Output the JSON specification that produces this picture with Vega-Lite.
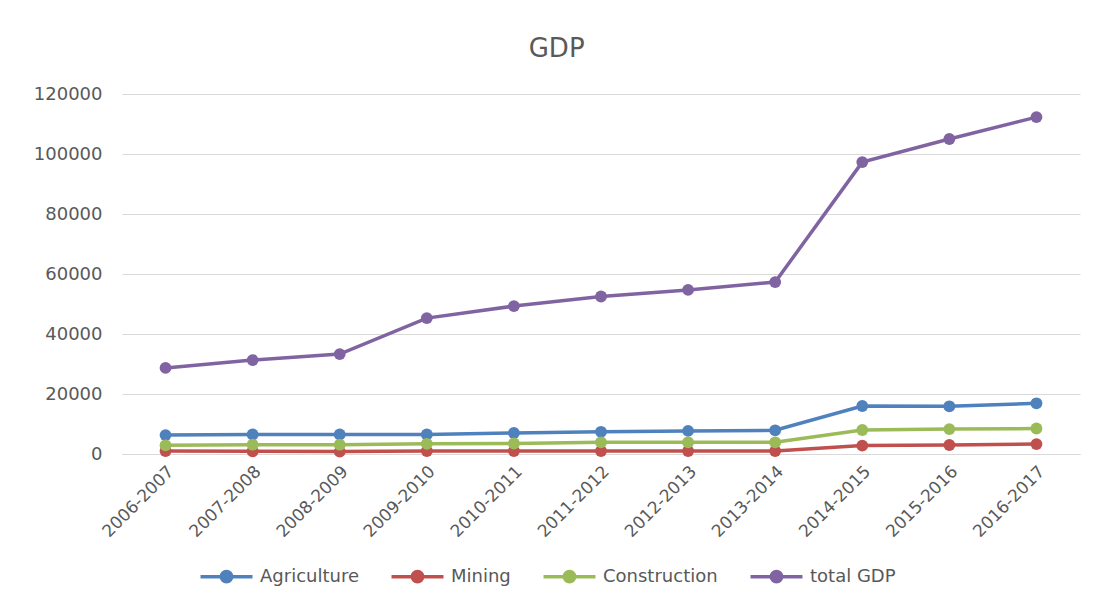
{
  "$schema": "https://vega.github.io/schema/vega-lite/v6.json",
  "width": 958,
  "height": 360,
  "autosize": {"type": "none"},
  "padding": {"left": 122, "top": 94, "right": 14, "bottom": 148},
  "background": "white",
  "config": {
    "font": "DejaVu Sans",
    "view": {"stroke": null}
  },
  "title": {
    "text": "GDP",
    "fontSize": 26,
    "fontWeight": "normal",
    "color": "#595959",
    "frame": "bounds",
    "anchor": "middle",
    "offset": 23
  },
  "data": {
    "values": [
      {"period": "2006-2007", "series": "Agriculture", "value": 6300},
      {"period": "2007-2008", "series": "Agriculture", "value": 6500},
      {"period": "2008-2009", "series": "Agriculture", "value": 6500},
      {"period": "2009-2010", "series": "Agriculture", "value": 6500},
      {"period": "2010-2011", "series": "Agriculture", "value": 7000},
      {"period": "2011-2012", "series": "Agriculture", "value": 7400},
      {"period": "2012-2013", "series": "Agriculture", "value": 7700},
      {"period": "2013-2014", "series": "Agriculture", "value": 7900},
      {"period": "2014-2015", "series": "Agriculture", "value": 16000},
      {"period": "2015-2016", "series": "Agriculture", "value": 15900},
      {"period": "2016-2017", "series": "Agriculture", "value": 16900},
      {"period": "2006-2007", "series": "Mining", "value": 1000},
      {"period": "2007-2008", "series": "Mining", "value": 900},
      {"period": "2008-2009", "series": "Mining", "value": 800},
      {"period": "2009-2010", "series": "Mining", "value": 1000},
      {"period": "2010-2011", "series": "Mining", "value": 1000},
      {"period": "2011-2012", "series": "Mining", "value": 1000},
      {"period": "2012-2013", "series": "Mining", "value": 1000},
      {"period": "2013-2014", "series": "Mining", "value": 1000},
      {"period": "2014-2015", "series": "Mining", "value": 2800},
      {"period": "2015-2016", "series": "Mining", "value": 3000},
      {"period": "2016-2017", "series": "Mining", "value": 3300},
      {"period": "2006-2007", "series": "Construction", "value": 2900},
      {"period": "2007-2008", "series": "Construction", "value": 3100},
      {"period": "2008-2009", "series": "Construction", "value": 3100},
      {"period": "2009-2010", "series": "Construction", "value": 3400},
      {"period": "2010-2011", "series": "Construction", "value": 3500},
      {"period": "2011-2012", "series": "Construction", "value": 3900},
      {"period": "2012-2013", "series": "Construction", "value": 3900},
      {"period": "2013-2014", "series": "Construction", "value": 3900},
      {"period": "2014-2015", "series": "Construction", "value": 8000},
      {"period": "2015-2016", "series": "Construction", "value": 8300},
      {"period": "2016-2017", "series": "Construction", "value": 8500},
      {"period": "2006-2007", "series": "total GDP", "value": 28700},
      {"period": "2007-2008", "series": "total GDP", "value": 31300},
      {"period": "2008-2009", "series": "total GDP", "value": 33300},
      {"period": "2009-2010", "series": "total GDP", "value": 45300},
      {"period": "2010-2011", "series": "total GDP", "value": 49300},
      {"period": "2011-2012", "series": "total GDP", "value": 52500},
      {"period": "2012-2013", "series": "total GDP", "value": 54700},
      {"period": "2013-2014", "series": "total GDP", "value": 57300},
      {"period": "2014-2015", "series": "total GDP", "value": 97300},
      {"period": "2015-2016", "series": "total GDP", "value": 105000},
      {"period": "2016-2017", "series": "total GDP", "value": 112300}
    ]
  },
  "mark": {"type": "line", "strokeWidth": 3.5, "point": {"size": 140, "filled": true, "opacity": 1}},
  "encoding": {
    "x": {
      "field": "period",
      "type": "ordinal",
      "scale": {"type": "band", "paddingInner": 0, "paddingOuter": 0},
      "axis": {
        "title": null,
        "labelAngle": -45,
        "labelFontSize": 17,
        "labelColor": "#595959",
        "ticks": false,
        "domainColor": "#d9d9d9",
        "labelPadding": 9,
        "grid": false
      }
    },
    "y": {
      "field": "value",
      "type": "quantitative",
      "scale": {"domain": [0, 120000], "nice": false},
      "axis": {
        "title": null,
        "values": [0, 20000, 40000, 60000, 80000, 100000, 120000],
        "format": "d",
        "labelFontSize": 18,
        "labelColor": "#595959",
        "ticks": false,
        "domain": false,
        "gridColor": "#d9d9d9",
        "labelPadding": 20
      }
    },
    "color": {
      "field": "series",
      "type": "nominal",
      "sort": ["Agriculture", "Mining", "Construction", "total GDP"],
      "scale": {
        "domain": ["Agriculture", "Mining", "Construction", "total GDP"],
        "range": ["#4F81BD", "#C0504D", "#9BBB59", "#8064A2"]
      },
      "legend": {
        "title": null,
        "orient": "none",
        "direction": "horizontal",
        "legendX": 94,
        "legendY": 472,
        "labelFontSize": 18,
        "labelColor": "#595959",
        "symbolType": "M-3,0H3M0.6,0A0.6,0.6 0 1,1 -0.6,0A0.6,0.6 0 1,1 0.6,0",
        "symbolSize": 300,
        "symbolStrokeWidth": 3.5,
        "symbolOffset": 0,
        "labelOffset": 23,
        "columnPadding": 25
      }
    }
  }
}
